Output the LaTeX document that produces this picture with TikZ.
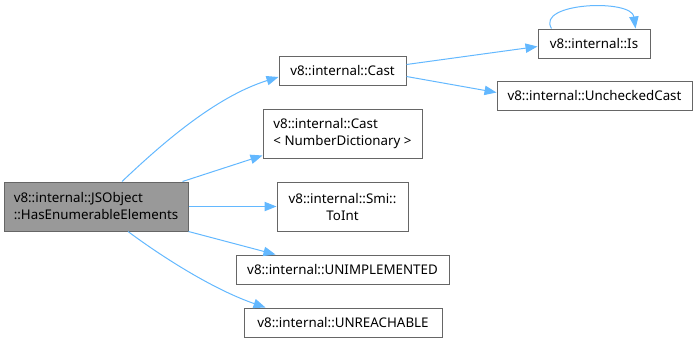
\documentclass[tikz,border=0pt]{standalone}
\usepackage{fontspec}
\setmainfont{Noto Sans}
\usetikzlibrary{arrows.meta,calc}
\definecolor{edgeblue}{HTML}{63B8FF}
\definecolor{boxline}{HTML}{666666}
\definecolor{boxmain}{HTML}{999999}
\begin{document}
\begin{tikzpicture}[x=0.75pt,y=-0.75pt,
  fn/.style={draw=boxline, fill=white, line width=0.75pt, inner sep=0pt,
    font=\fontsize{10}{12.75}\selectfont, align=center},
  fnmain/.style={fn, fill=boxmain},
  call/.style={draw=edgeblue, line width=0.75pt,
    -{Triangle[length=9pt,width=7pt]}}]
\useasboundingbox (0,0) rectangle (698,343);

% functions (sizes in pt: one-line boxes 21.75pt high, two-line boxes 36.75pt)
\node[fnmain, minimum width=138pt, minimum height=36.75pt, align=left] (main) at (96,206.5)
  {v8::internal::JSObject\\::HasEnumerableElements};
\node[fn, minimum width=95.25pt, minimum height=21.75pt] (cast) at (342.5,70.5) {v8::internal::Cast};
\node[fn, minimum width=119.25pt, minimum height=36.75pt, align=left] (castnd) at (342.5,133.5)
  {v8::internal::Cast\\< NumberDictionary >};
\node[fn, minimum width=98.25pt, minimum height=36.75pt] (smi) at (342.5,206.5)
  {v8::internal::Smi::\\ToInt};
\node[fn, minimum width=159.75pt, minimum height=21.75pt] (unimpl) at (342.5,269.5)
  {v8::internal::UNIMPLEMENTED};
\node[fn, minimum width=148.5pt, minimum height=21.75pt] (unreach) at (343,322.5)
  {v8::internal::UNREACHABLE};
\node[fn, minimum width=84pt, minimum height=21.75pt] (is) at (594,43.5) {v8::internal::Is};
\node[fn, minimum width=146.25pt, minimum height=21.75pt] (unch) at (594.5,95.5)
  {v8::internal::UncheckedCast};

% calls
\draw[call] ($(main.north)+(26,0)$) .. controls +(38,-36) and +(-64,20) .. ($(cast.west)+(0,6.5)$);
\draw[call] ($(main.north east)+(-6,0)$) -- ($(castnd.south west)+(0,-3)$);
\draw[call] (main.east) -- (smi.west);
\draw[call] (main.south east) -- ($(unimpl.north west)+(40,0)$);
\draw[call] ($(main.south)+(32,0)$) .. controls +(35,26) and +(-52,-18) .. ($(unreach.north west)+(22,0)$);
\draw[call] ($(cast.east)+(0,-6)$) -- ($(is.west)+(0,3)$);
\draw[call] ($(cast.east)+(0,6)$) -- ($(unch.west)+(0,-3)$);
\draw[call] ($(is.north west)+(14,0)$) .. controls +(-16,-26) and +(-4,-30) .. ($(is.north west)+(98,0)$);
\end{tikzpicture}
\end{document}
